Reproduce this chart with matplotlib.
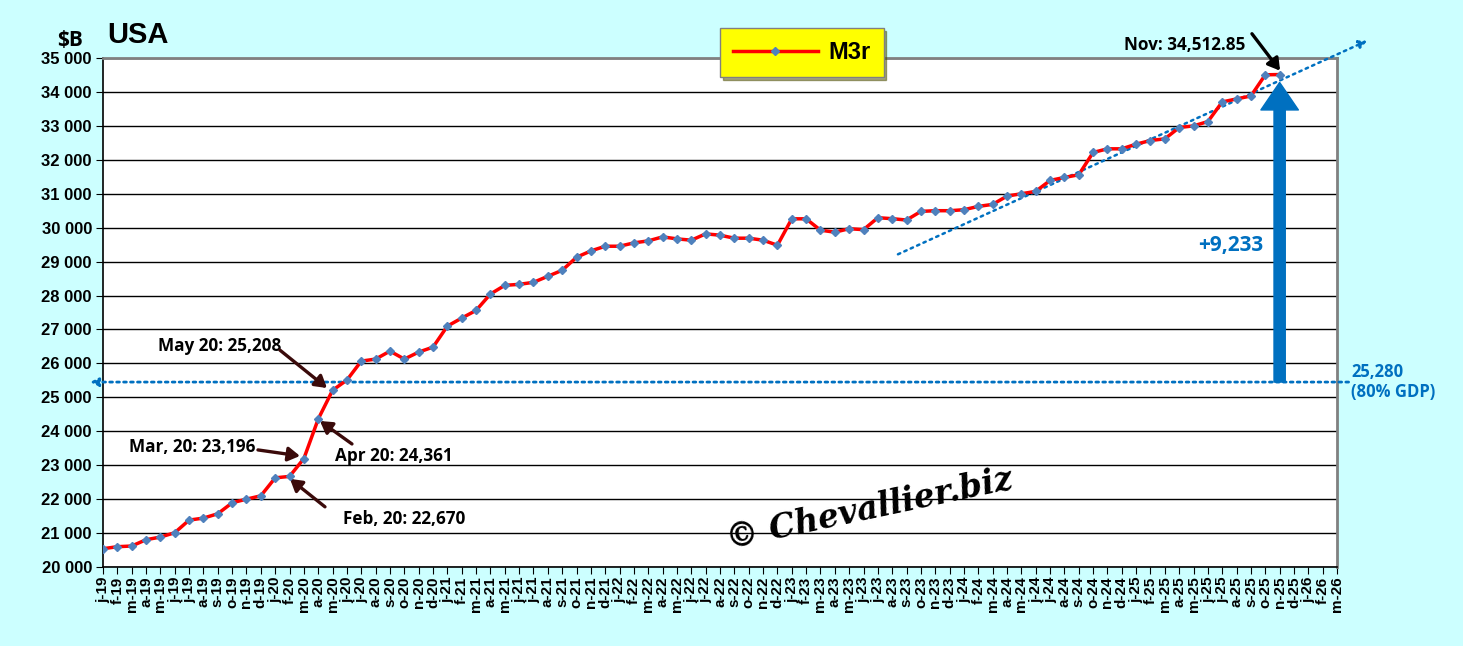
import numpy as np
import matplotlib
matplotlib.use("Agg")
import matplotlib.pyplot as plt
from matplotlib.ticker import FuncFormatter, MultipleLocator

# 월별 M3r (십억 달러), 2019-01 ~ 2025-11
m3r = [
    20539, 20598, 20618, 20804, 20882, 21010, 21382, 21441, 21569, 21892, 22000, 22098,
    22627, 22670, 23196, 24361, 25208, 25510, 26068, 26127, 26362, 26127, 26333, 26480,
    27099, 27335, 27562, 28044, 28300, 28330, 28389, 28567, 28744, 29128, 29315, 29453,
    29453, 29552, 29611, 29729, 29670, 29631, 29818, 29778, 29690, 29690, 29631, 29483,
    30261, 30261, 29926, 29867, 29970, 29941, 30294, 30265, 30225, 30480, 30500, 30500,
    30529, 30627, 30686, 30931, 31000, 31069, 31392, 31480, 31559, 32216, 32324, 32324,
    32461, 32569, 32618, 32951, 33000, 33127, 33706, 33794, 33882, 34505, 34512.85,
]
month_initials = ["j", "f", "m", "a", "m", "j", "j", "a", "s", "o", "n", "d"]
years = ["19", "20", "21", "22", "23", "24", "25", "26"]
n_ticks = 87  # j-19 ~ m-26

gdp80_level = 25450      # 점선 위치
gdp80_label = "25,280\n(80% GDP)"
trend_start = (55.4, 29215)
trend_end = (88.1, 35510)

tick_labels = [f"{month_initials[i % 12]}-{years[i // 12]}" for i in range(n_ticks)]
x = np.arange(len(m3r))

BG = "#ccffff"
BLUE = "#0070c0"
DARK = "#3a0a0a"
NOTE_FONT = "Open Sans"

fig = plt.figure(figsize=(14.63, 6.46), dpi=100, facecolor=BG)
ax = fig.add_axes([0.0704, 0.1223, 0.9139 - 0.0704, 0.9102 - 0.1223])
ax.set_facecolor("white")

ax.set_xlim(0, n_ticks - 1)
ax.set_ylim(20000, 35000)
ax.yaxis.set_major_locator(MultipleLocator(1000))
ax.yaxis.set_major_formatter(FuncFormatter(lambda v, p: f"{int(v):,}".replace(",", " ")))
ax.grid(axis="y", color="black", linewidth=1)
ax.set_axisbelow(True)

ax.set_xticks(np.arange(n_ticks))
ax.set_xticklabels(tick_labels, rotation=90, fontsize=11, fontweight="bold",
                   family="Liberation Sans")
for lab in ax.get_yticklabels():
    lab.set_fontweight("bold")
    lab.set_family("Liberation Sans")
    lab.set_fontsize(12)
ax.tick_params(axis="x", length=5, pad=2)
ax.tick_params(axis="y", length=5, pad=3)

for s in ["top", "right"]:
    ax.spines[s].set_color("#808080")
    ax.spines[s].set_linewidth(2)
ax.spines["left"].set_linewidth(1.2)
ax.spines["bottom"].set_linewidth(1.2)

# 메인 선
line, = ax.plot(x, m3r, color="red", linewidth=2.5, marker="D", markersize=4.5,
                markerfacecolor="#4f81bd", markeredgecolor="#4f81bd", label="M3r", zorder=5)

# 80% GDP 점선
ax.annotate("", xy=(-1.1, gdp80_level), xytext=(87, gdp80_level),
            arrowprops=dict(arrowstyle="-|>", color=BLUE, lw=2, linestyle=(0, (1, 1.5)),
                            mutation_scale=12), annotation_clip=False)
ax.text(87, gdp80_level, gdp80_label, color=BLUE, fontsize=12, fontweight="bold",
        family=NOTE_FONT, va="center", ha="left", clip_on=False, linespacing=1.1)

# 추세선
ax.annotate("", xy=trend_end, xytext=trend_start,
            arrowprops=dict(arrowstyle="-|>", color=BLUE, lw=1.8, linestyle=(0, (1, 1.8)),
                            mutation_scale=12, shrinkA=0, shrinkB=0), annotation_clip=False)

# 상승폭 화살표
ax.annotate("", xy=(x[-1], 34280), xytext=(x[-1], gdp80_level),
            arrowprops=dict(arrowstyle="simple,head_length=1.1,head_width=1.5,tail_width=0.45",
                            color=BLUE, shrinkA=0, shrinkB=0, mutation_scale=18), zorder=6)
ax.text(78.6, 29460, "+9,233", color=BLUE, fontsize=15, fontweight="bold", family=NOTE_FONT,
        ha="center", va="center")

# 주석들: 글자 위치와 화살표 시작점을 따로 잡음
def note(txt, text_pos, arrow_from, arrow_to, color=DARK):
    ax.text(text_pos[0], text_pos[1], txt, fontsize=12.3, fontweight="bold", family=NOTE_FONT,
            ha="center", va="center", color="black", clip_on=False)
    ax.annotate("", xy=arrow_to, xytext=arrow_from, annotation_clip=False,
                arrowprops=dict(arrowstyle="-|>,head_length=0.5,head_width=0.3", color=color,
                                lw=2.4, mutation_scale=14, shrinkA=0, shrinkB=0))

note("May 20: 25,208", (8.1, 26500), (12.33, 26391), (15.61, 25274))
note("Mar, 20: 23,196", (6.2, 23540), (10.8, 23450), (13.73, 23273))
note("Apr 20: 24,361", (20.3, 23270), (17.35, 23626), (15.12, 24303))
note("Feb, 20: 22,670", (21.0, 21420), (15.47, 21773), (13.03, 22597))
note("Nov: 34,512.85", (75.4, 35390), (80.07, 35715), (82.03, 34626), color="black")

# 제목들
fig.text(0.073, 0.946, "USA", fontsize=21, fontweight="bold", family="Liberation Sans",
         va="center")
fig.text(0.057, 0.938, "$B", fontsize=15, fontweight="bold", family=NOTE_FONT,
         ha="right", va="center")

# 워터마크
ax.text(53.4, 21700, "© Chevallier.biz", fontsize=23.5, fontweight="bold", style="italic",
        family="DejaVu Serif", rotation=12, ha="center", va="center", color="black")

# 범례
leg = fig.legend(handles=[line], loc="center", bbox_to_anchor=(0.548, 0.918),
                 facecolor="#ffff00", edgecolor="#808080", framealpha=1, fancybox=False,
                 shadow=True, prop=dict(size=17, weight="bold", family="Liberation Sans"),
                 handlelength=3.6, borderpad=0.55, handletextpad=0.45, borderaxespad=0)
leg.get_frame().set_linewidth(1)

fig.savefig("out.png", dpi=100, facecolor=BG)
